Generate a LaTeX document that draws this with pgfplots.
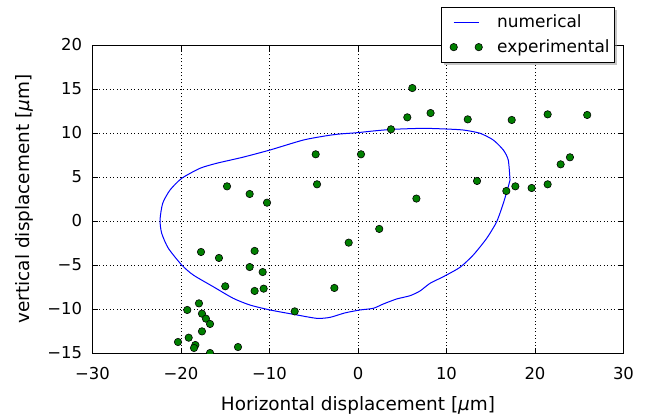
\documentclass[border=0pt]{standalone}
\usepackage{fontspec}
\setmainfont{DejaVu Sans}
\usepackage{pgfplots}
\pgfplotsset{compat=1.18}
\usetikzlibrary{shadows}
\makeatletter
\tikzset{no preactions/.code={\let\tikz@preactions\pgfutil@empty}}
\makeatother

% numerical contour (closed loop)
\pgfplotstableread{
x y
17.18 4.66
16.98 6.93
16.42 8.07
15.29 9.20
13.79 9.97
11.90 10.34
10.02 10.45
7.38 10.53
3.99 10.42
1.73 10.23
-0.15 10.03
-2.03 9.89
-3.50 9.70
-6.18 9.20
-9.94 8.07
-13.00 7.25
-15.97 6.56
-17.85 5.99
-19.92 4.85
-21.24 3.52
-22.07 2.01
-22.37 0.11
-22.18 -1.40
-21.43 -3.10
-19.92 -5.00
-18.61 -6.14
-16.35 -7.47
-14.09 -8.79
-12.20 -9.55
-9.94 -10.11
-7.31 -10.60
-4.67 -11.06
-3.16 -10.95
-1.50 -10.45
0.23 -10.11
1.73 -9.92
2.86 -9.43
4.37 -8.86
5.88 -8.49
7.01 -7.95
8.14 -7.08
9.64 -6.33
11.53 -5.26
13.03 -3.86
14.54 -1.97
15.67 -0.08
16.42 2.01
16.98 3.90
17.18 4.66
}\numerical

\pgfplotstableread{
x y
-14.80 3.94
-12.24 3.07
-4.78 7.58
-4.63 4.17
0.34 7.58
6.14 15.11
5.57 11.78
8.20 12.27
12.40 11.55
17.37 11.48
21.43 12.12
25.90 12.05
3.73 10.42
23.95 7.24
22.90 6.44
13.45 4.55
17.78 3.94
16.76 3.41
19.62 3.75
21.43 4.17
6.60 2.55
2.40 -0.90
-10.28 2.08
-1.05 -2.46
-17.74 -3.52
-15.71 -4.20
-11.68 -3.40
-12.24 -5.23
-10.77 -5.80
-15.00 -7.42
-11.68 -7.95
-10.66 -7.69
-2.67 -7.61
-7.15 -10.27
-17.97 -9.36
-19.29 -10.11
-17.63 -10.53
-17.18 -11.10
-16.72 -11.70
-17.63 -12.54
-19.13 -13.26
-20.34 -13.75
-18.38 -14.09
-18.53 -14.43
-16.72 -15.00
-13.56 -14.32
}\experimental

\begin{document}
\begin{tikzpicture}
\useasboundingbox (-92.5bp,-63bp) rectangle (553.5bp,353bp);
\begin{axis}[
  scale only axis, width=531bp, height=308bp,
  at={(0,0)}, anchor=south west,
  xmin=-30, xmax=30, ymin=-15, ymax=20,
  enlargelimits=false,
  xtick={-30,-20,...,30}, ytick={-15,-10,...,20},
  xticklabels={−30,−20,−10,0,10,20,30},
  yticklabels={−15,−10,−5,0,5,10,15,20},
  tick pos=both, tick align=inside, major tick length=5.5bp,
  axis line style={black, line width=1bp},
  tick style={black, line width=0.8bp},
  grid=major,
  grid style={black, line width=0.6bp, dash pattern=on 1bp off 2.5bp},
  tick label style={font=\fontsize{16.5}{19}\selectfont},
  xticklabel style={anchor=base, yshift=-26bp},
  yticklabel style={xshift=-7bp},
  label style={font=\fontsize{18.5}{22}\selectfont},
  xlabel={Horizontal displacement [{\itshape μ}m]},
  ylabel={vertical displacement [{\itshape μ}m]},
  xlabel style={at={(axis description cs:0.5,0)}, anchor=base, yshift=-57bp},
  ylabel style={at={(axis description cs:-0.129,0.5)}, anchor=center},
  clip marker paths=true,
  legend image code/.code={\path[no preactions] (-7bp,0bp) (33bp,0bp);
    \draw[no preactions, #1] plot coordinates {(0bp,0bp) (25bp,0bp)};},
  legend cell align=left,
  legend style={at={(axis description cs:0.984,1.1244)}, anchor=north east,
    font=\fontsize{17}{20}\selectfont, draw=black, line width=0.8bp, fill=white,
    drop shadow={shadow xshift=2.5bp, shadow yshift=-2.5bp, fill=black!45},
    inner xsep=5bp, inner ysep=6bp, row sep=6.5bp, column sep=10bp,
    nodes={inner xsep=0bp, inner ysep=2bp}},
]
\addplot[blue, line width=1bp, mark=none, smooth, tension=0.4,
  legend image code/.code={\path[no preactions] (-7bp,0bp) (33bp,0bp);
    \draw[no preactions, blue, line width=1bp] (0bp,0bp) -- (25bp,0bp);}]
  table[x=x,y=y] {\numerical};
\addlegendentry{numerical}
\addplot[only marks, mark=*, mark size=3.7bp,
  mark options={fill=black!50!green, draw=black, line width=0.6bp}]
  table[x=x,y=y] {\experimental};
\addlegendentry{experimental}
\end{axis}
\end{tikzpicture}
\end{document}
